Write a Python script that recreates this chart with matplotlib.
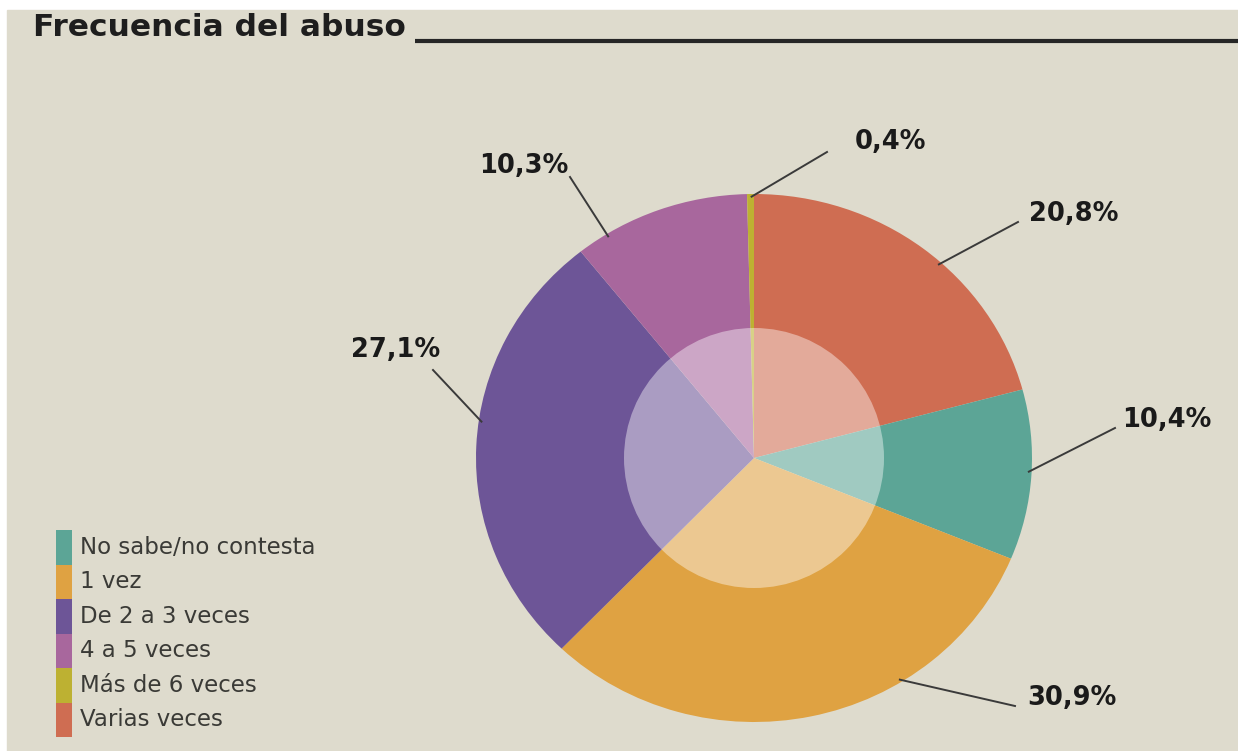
import matplotlib
matplotlib.use("Agg")
import matplotlib.pyplot as plt
from matplotlib.patches import Ellipse, Rectangle
import numpy as np

# ---- data ----
title = "Frecuencia del abuso"
categories = ["Varias veces", "No sabe/no contesta", "1 vez",
              "De 2 a 3 veces", "4 a 5 veces", "Más de 6 veces"]
values = [20.8, 10.4, 30.9, 27.1, 10.3, 0.4]
value_labels = ["20,8%", "10,4%", "30,9%", "27,1%", "10,3%", "0,4%"]
legend_order = ["No sabe/no contesta", "1 vez", "De 2 a 3 veces",
                "4 a 5 veces", "Más de 6 veces", "Varias veces"]

# ---- style ----
colors = {
    "Varias veces": "#cf6d52",
    "No sabe/no contesta": "#5ca596",
    "1 vez": "#dfa242",
    "De 2 a 3 veces": "#6d5597",
    "4 a 5 veces": "#a8679d",
    "Más de 6 veces": "#bdb132",
}
bg = "#dedbcd"
W, H = 1238, 751
cx, cy, rx, ry = 754, 458, 278, 264          # pie centre / radii (px, top origin)
# leader line anchor angle on rim (deg), line end (px), label centre (px)
anchor_deg = [47.8, -3.0, -58.0, 172.0, 122.0, 90.5]
line_end = [(1018, 222), (1115, 428), (1015, 706), (433, 370), (570, 177), (827, 152)]
label_pos = [(1074, 214), (1167, 420), (1072, 698), (396, 350), (524, 166), (891, 142)]

fig = plt.figure(figsize=(W / 100, H / 100), dpi=100)
fig.patch.set_facecolor("white")
bgax = fig.add_axes([0, 0, 1, 1])
bgax.set_xlim(0, W)
bgax.set_ylim(H, 0)
bgax.axis("off")
bgax.add_patch(Rectangle((7, 10), W, H, color=bg, zorder=0))

# title and rule
bgax.text(33, 27, title, fontsize=22.5, fontweight="bold", color="#1e1e1e",
          va="center", ha="left", family="DejaVu Sans")
bgax.plot([415, W], [41, 41], color="#262626", lw=3, solid_capstyle="butt")

# pie
ax = fig.add_axes([(cx - rx) / W, (H - cy - ry) / H, 2 * rx / W, 2 * ry / H])
wedges, _ = ax.pie(values, startangle=90, counterclock=False,
                   colors=[colors[c] for c in categories],
                   wedgeprops=dict(linewidth=0))
ax.set_aspect("auto")
ax.set_xlim(-1, 1)
ax.set_ylim(-1, 1)
ax.axis("off")
ax.add_patch(Ellipse((0, 0), 2 * 130 / rx, 2 * 130 / ry, facecolor="white",
                     alpha=0.42, edgecolor="none", zorder=5))

def px_to_data(px, py):
    return (px - cx) / rx, (cy - py) / ry

for ang, le, lp, lab in zip(anchor_deg, line_end, label_pos, value_labels):
    a = np.deg2rad(ang)
    x0, y0 = np.cos(a) * 0.99, np.sin(a) * 0.99
    x1, y1 = px_to_data(*le)
    ax.plot([x0, x1], [y0, y1], color="#3a3a3a", lw=1.4, clip_on=False, zorder=6)
    tx, ty = px_to_data(*lp)
    ax.text(tx, ty, lab, fontsize=18.5, fontweight="bold", color="#1a1a1a",
            ha="center", va="center", clip_on=False, family="DejaVu Sans")

# legend: colour bar with labels
bar_x0, bar_w = 56, 16
top = 530
step = 34.5
for i, cat in enumerate(legend_order):
    y0 = top + i * step
    bgax.add_patch(Rectangle((bar_x0, y0), bar_w, step, facecolor=colors[cat],
                             edgecolor="none", zorder=2))
    bgax.text(80, y0 + step / 2, cat, fontsize=16.5, color="#3a3a36",
              va="center", ha="left", family="DejaVu Sans")

fig.savefig("out.png", dpi=100, facecolor=fig.get_facecolor())
